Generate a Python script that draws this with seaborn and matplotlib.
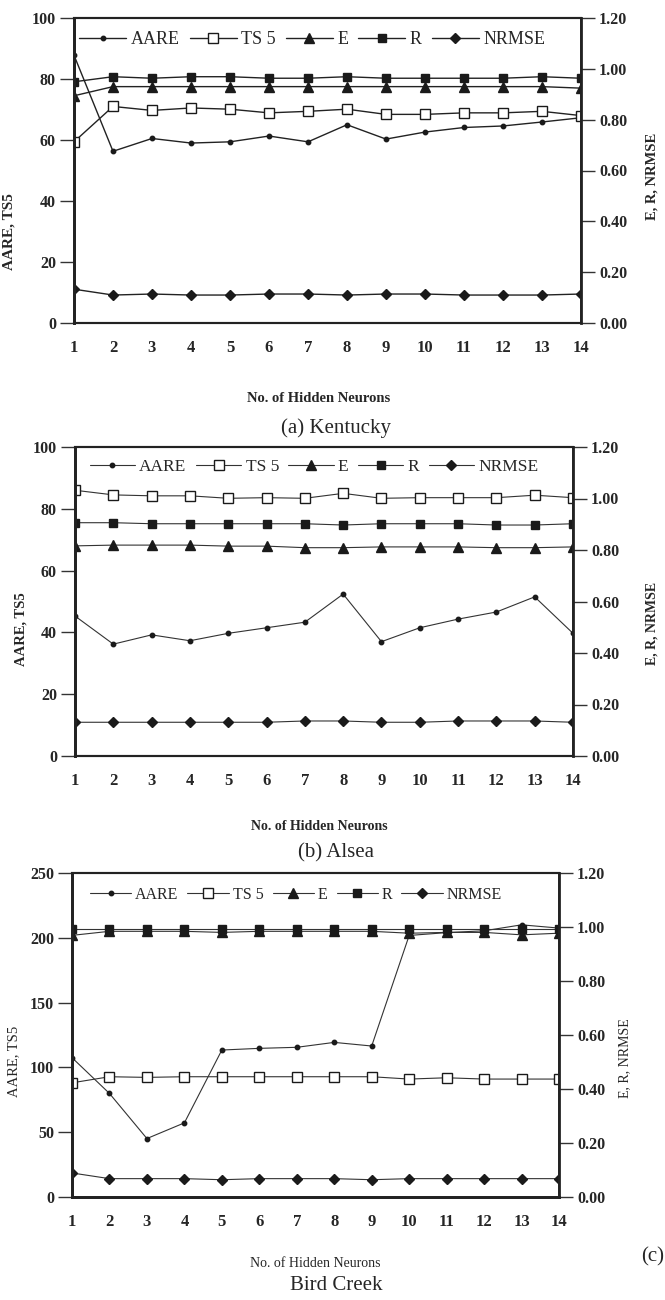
import matplotlib
matplotlib.use("Agg")
import matplotlib.pyplot as plt
import seaborn as sns
import numpy as np
from matplotlib.ticker import FormatStrFormatter, MultipleLocator

# ---------------- data ----------------
neurons = list(range(1, 15))

# (a) Kentucky
ky_aare = [87.8, 56.3, 60.5, 59.0, 59.4, 61.3, 59.4, 65.0, 60.3, 62.6, 64.1, 64.6, 65.9, 67.3]
ky_ts5 = [59.4, 71.0, 69.7, 70.5, 70.1, 68.9, 69.4, 70.1, 68.4, 68.4, 68.9, 68.9, 69.4, 68.0]
ky_e = [0.894, 0.930, 0.930, 0.930, 0.930, 0.930, 0.930, 0.930, 0.930, 0.930, 0.930, 0.930, 0.930, 0.924]
ky_r = [0.949, 0.969, 0.963, 0.969, 0.969, 0.963, 0.963, 0.969, 0.963, 0.963, 0.963, 0.963, 0.969, 0.963]
ky_nrmse = [0.133, 0.110, 0.114, 0.110, 0.110, 0.114, 0.114, 0.110, 0.114, 0.114, 0.110, 0.110, 0.110, 0.114]

# (b) Alsea
al_aare = [45.3, 36.2, 39.2, 37.3, 39.7, 41.5, 43.3, 52.4, 37.0, 41.5, 44.3, 46.6, 51.5, 39.7]
al_ts5 = [86.0, 84.5, 84.2, 84.2, 83.4, 83.6, 83.4, 85.0, 83.4, 83.6, 83.6, 83.6, 84.4, 83.6]
al_e = [0.816, 0.819, 0.819, 0.819, 0.815, 0.815, 0.809, 0.809, 0.812, 0.812, 0.812, 0.809, 0.809, 0.812]
al_r = [0.906, 0.906, 0.902, 0.902, 0.902, 0.902, 0.902, 0.897, 0.902, 0.902, 0.902, 0.897, 0.897, 0.902]
al_nrmse = [0.131, 0.131, 0.131, 0.131, 0.131, 0.131, 0.136, 0.136, 0.131, 0.131, 0.136, 0.136, 0.136, 0.131]

# (c) Bird Creek
bc_aare = [107.5, 79.9, 45.1, 57.2, 113.4, 114.7, 115.5, 119.3, 116.5, 201.8, 204.0, 205.4, 210.0, 207.5]
bc_ts5 = [88.1, 92.8, 92.3, 92.8, 92.8, 92.8, 92.8, 92.8, 92.8, 91.0, 92.0, 91.0, 91.0, 91.0]
bc_e = [0.969, 0.984, 0.984, 0.984, 0.980, 0.984, 0.984, 0.984, 0.984, 0.977, 0.980, 0.980, 0.971, 0.977]
bc_r = [0.993, 0.993, 0.993, 0.993, 0.993, 0.993, 0.993, 0.993, 0.993, 0.993, 0.993, 0.993, 0.993, 0.993]
bc_nrmse = [0.089, 0.068, 0.068, 0.068, 0.064, 0.068, 0.068, 0.068, 0.064, 0.068, 0.068, 0.068, 0.068, 0.068]

series_names = ["AARE", "TS 5", "E", "R", "NRMSE"]
captions = ["(a) Kentucky", "(b) Alsea", "Bird Creek"]

# ---------------- style ----------------
sns.set_theme(style="white")
plt.rcParams["font.family"] = ["Liberation Serif", "DejaVu Serif"]
plt.rcParams["mathtext.fontset"] = "stix"

fig = plt.figure(figsize=(6.65, 13.0), dpi=100)

W, H = 665.0, 1300.0


def box(l, r, t, b):
    return [l / W, 1 - b / H, (r - l) / W, (b - t) / H]


panels = [
    dict(rect=box(74, 581, 18, 323), data=(ky_aare, ky_ts5, ky_e, ky_r, ky_nrmse),
         ymax=100, ystep=20, lw=1.0, lc="#222222", leg=(0.47, 0.93), legfs=13,
         xl=(0.483, -0.226), yl=(-0.116, 0.30), yr=(1.128, 0.48), lblw="bold", lblfs=10.5),
    dict(rect=box(75, 573, 447, 756), data=(al_aare, al_ts5, al_e, al_r, al_nrmse),
         ymax=100, ystep=20, lw=0.8, lc="#333333", leg=(0.48, 0.935), legfs=12.5,
         xl=(0.49, -0.207), yl=(-0.096, 0.41), yr=(1.145, 0.43), lblw="bold", lblfs=10),
    dict(rect=box(72, 559, 873, 1197), data=(bc_aare, bc_ts5, bc_e, bc_r, bc_nrmse),
         ymax=250, ystep=50, lw=0.8, lc="#333333", leg=(0.46, 0.932), legfs=11.5,
         xl=(0.50, -0.185), yl=(-0.107, 0.42), yr=(1.121, 0.43), lblw="normal", lblfs=10),
]

for i, p in enumerate(panels):
    aare, ts5, e, r, nrmse = p["data"]
    ax = fig.add_axes(p["rect"])
    ax2 = ax.twinx()
    lc = p["lc"]
    lw = p["lw"]
    common = dict(color=lc, linewidth=lw, markeredgecolor="k", markeredgewidth=1.0)
    sns.lineplot(x=neurons, y=aare, ax=ax, marker="o", markersize=3.2,
                 markerfacecolor="k", label=series_names[0], **common)
    sns.lineplot(x=neurons, y=ts5, ax=ax, marker="s", markersize=6.5,
                 markerfacecolor="white", label=series_names[1], **common)
    sns.lineplot(x=neurons, y=e, ax=ax2, marker="^", markersize=6.5,
                 markerfacecolor="k", label=series_names[2], **common)
    sns.lineplot(x=neurons, y=r, ax=ax2, marker="s", markersize=6,
                 markerfacecolor="k", label=series_names[3], **common)
    sns.lineplot(x=neurons, y=nrmse, ax=ax2, marker="D", markersize=5.5,
                 markerfacecolor="k", label=series_names[4], **common)

    h1, l1 = ax.get_legend_handles_labels()
    h2, l2 = ax2.get_legend_handles_labels()
    if ax.get_legend():
        ax.get_legend().remove()
    if ax2.get_legend():
        ax2.get_legend().remove()
    leg = ax2.legend(h1 + h2, l1 + l2, ncol=5, loc="center",
                     bbox_to_anchor=p["leg"], frameon=False,
                     handlelength=2.6, handletextpad=0.25, columnspacing=0.55,
                     fontsize=p["legfs"], borderaxespad=0)

    ax.set_xlim(1, 14)
    ax.set_ylim(0, p["ymax"])
    ax2.set_ylim(0, 1.2)
    ax.set_xticks(neurons)
    ax.yaxis.set_major_locator(MultipleLocator(p["ystep"]))
    ax2.yaxis.set_major_locator(MultipleLocator(0.2))
    ax2.yaxis.set_major_formatter(FormatStrFormatter("%.2f"))

    ax.tick_params(axis="y", which="major", direction="out", length=10, width=1,
                   color="#333333", left=True, labelsize=11.5, pad=3)
    ax.tick_params(axis="x", length=0, pad=12, labelsize=12)
    ax2.tick_params(axis="y", which="major", direction="out", length=10, width=1,
                    color="#333333", right=True, labelsize=11.5, pad=3)
    for lab in ax.get_xticklabels() + ax.get_yticklabels() + ax2.get_yticklabels():
        lab.set_fontweight("bold")

    for sp in ["left", "right", "top", "bottom"]:
        ax.spines[sp].set_color("#222222")
        ax2.spines[sp].set_color("#222222")
    ax.spines["left"].set_linewidth(2.0)
    ax.spines["bottom"].set_linewidth(2.0 if i == 2 else 1.5)
    ax.spines["top"].set_linewidth(1.5)
    ax2.spines["right"].set_linewidth(2.0)
    ax2.spines["top"].set_linewidth(1.5)
    ax2.spines["bottom"].set_linewidth(2.0 if i == 2 else 1.5)
    ax2.spines["left"].set_linewidth(2.0)

    ax.set_xlabel("No. of Hidden Neurons", fontsize=p["lblfs"], fontweight=p["lblw"])
    ax.xaxis.set_label_coords(*p["xl"])
    ax.set_ylabel("AARE, TS5", fontsize=p["lblfs"] + 0.5, fontweight=p["lblw"])
    ax.yaxis.set_label_coords(*p["yl"])
    ax2.set_ylabel("E, R, NRMSE", fontsize=p["lblfs"], fontweight=p["lblw"])
    ax2.yaxis.set_label_coords(*p["yr"])
    ax.grid(False)
    ax2.grid(False)

fig.text(336 / W, 1 - 428 / H, captions[0], ha="center", va="center", fontsize=15)
fig.text(336 / W, 1 - 853 / H, captions[1], ha="center", va="center", fontsize=15)
fig.text(336 / W, 1 - 1285 / H, captions[2], ha="center", va="center", fontsize=15)
fig.text(664 / W, 1 - 1257 / H, "(c)", ha="right", va="center", fontsize=15)

fig.savefig("out.png", dpi=100)
